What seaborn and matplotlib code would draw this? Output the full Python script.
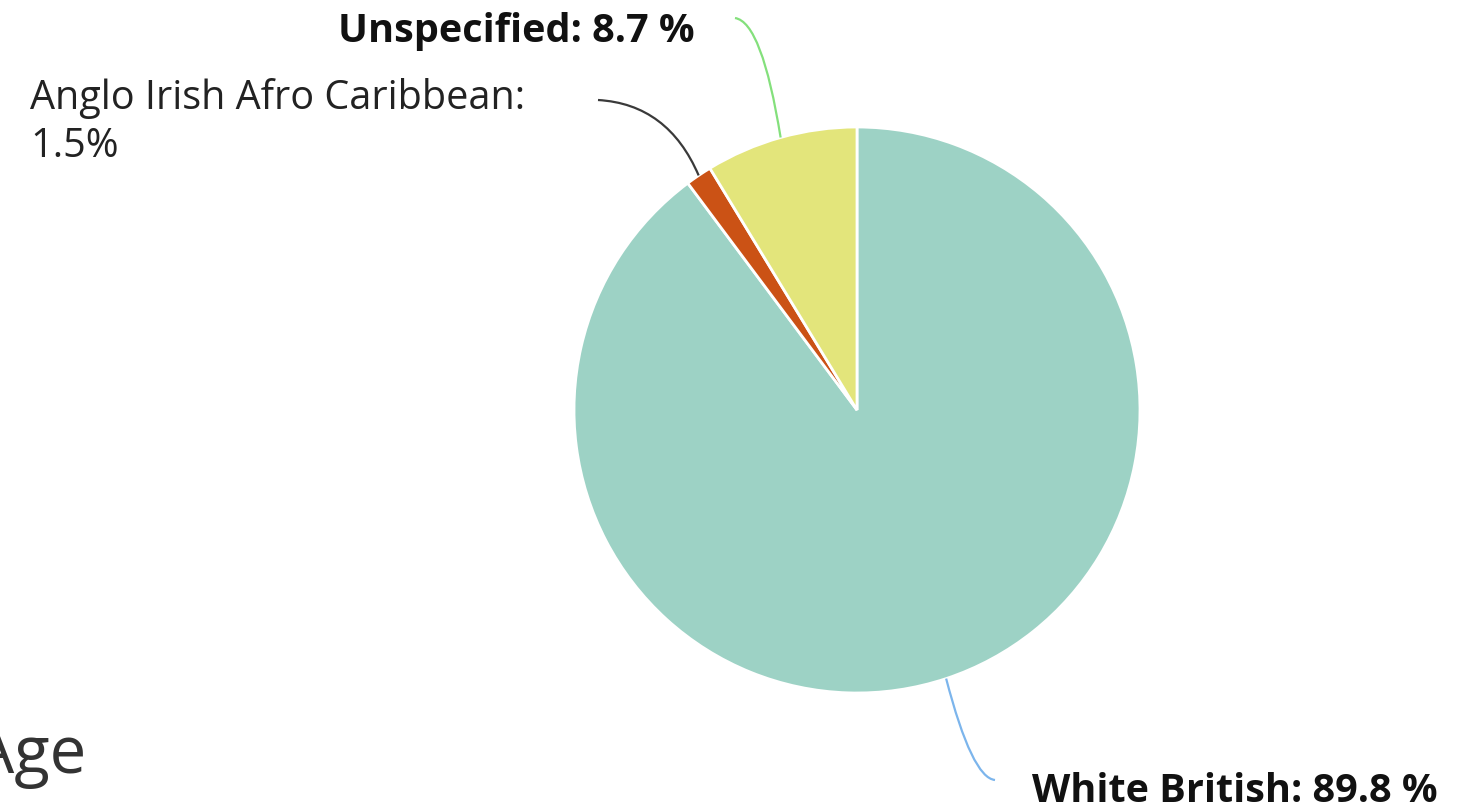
import numpy as np
import seaborn as sns
import matplotlib.pyplot as plt
from matplotlib.path import Path
from matplotlib.patches import PathPatch

# slice data, clockwise from 12 o'clock
groups = ["White British", "Anglo Irish Afro Caribbean", "Unspecified"]
shares = [89.8, 1.5, 8.7]
label_texts = ["White British: 89.8 %", "Anglo Irish Afro Caribbean:\n1.5%", "Unspecified: 8.7 %"]

sns.set_theme(style="white")
plt.rcParams['font.family'] = ['Open Sans', 'DejaVu Sans']

W, H = 1463, 810
slice_colors = sns.color_palette(["#9dd2c5", "#cb5215", "#e3e57b"])
line_colors = ["#7cb5ec", "#3a3a3a", "#84e07c"]

fig = plt.figure(figsize=(W / 100, H / 100), dpi=100)
ax = fig.add_axes([0, 0, 1, 1])

cx, cy, r = 857, H - 410, 283
wedges, _ = ax.pie(shares, colors=slice_colors, startangle=90, counterclock=False,
                   center=(cx, cy), radius=r,
                   wedgeprops=dict(edgecolor="white", linewidth=2))
ax.set_xlim(0, W)
ax.set_ylim(0, H)
ax.axis('off')

# connector curves: start at wedge edge (mid angle), end next to the label
ends = [(995, 780), (598, 100), (735, 18)]
ctrls = [(972, 778), (668, 104), (762, 22)]
for w, end, ctrl, col in zip(wedges, ends, ctrls, line_colors):
    mid = np.deg2rad((w.theta1 + w.theta2) / 2)
    p0 = (cx + r * np.cos(mid), cy + r * np.sin(mid))
    verts = [p0, (ctrl[0], H - ctrl[1]), (end[0], H - end[1])]
    path = Path(verts, [Path.MOVETO, Path.CURVE3, Path.CURVE3])
    ax.add_patch(PathPatch(path, facecolor="none", edgecolor=col, lw=1.6))

ax.text(1032, H - 802, label_texts[0], ha="left", va="baseline",
        fontsize=28.5, fontweight="bold", color="#111111")
ax.text(30, H - 157, label_texts[1], ha="left", va="baseline",
        fontsize=28.5, color="#222222", linespacing=1.25)
ax.text(695, H - 42, label_texts[2], ha="right", va="baseline",
        fontsize=28.5, fontweight="bold", color="#111111")

# section heading partly cut off at the left edge
ax.text(-27, H - 773, "Age", ha="left", va="baseline", fontsize=47, color="#333333")

fig.savefig("out.png", dpi=100)
